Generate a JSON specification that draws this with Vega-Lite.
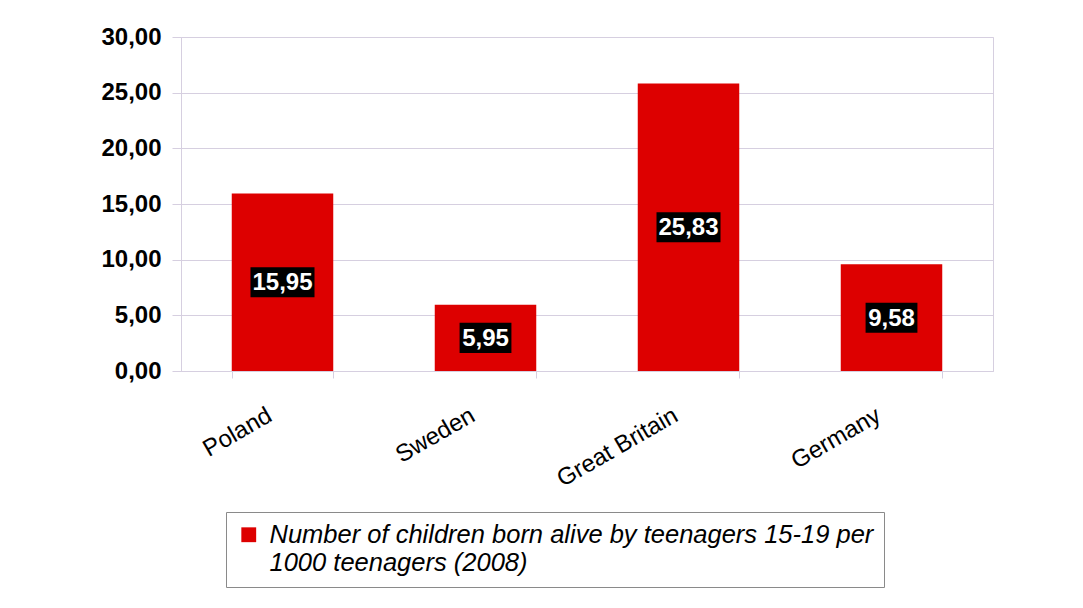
{
  "$schema": "https://vega.github.io/schema/vega-lite/v6.json",
  "width": 812,
  "height": 334,
  "autosize": {"type": "none"},
  "padding": {"left": 181, "top": 37, "right": 90, "bottom": 237},
  "background": "white",
  "config": {
    "font": "Liberation Sans",
    "view": {"stroke": "#d6cfe0", "strokeWidth": 1},
    "style": {"guide-label": {"lineHeight": 28}}
  },
  "data": {
    "values": [
      {"country": "Poland", "value": 15.95, "series": "Number of children born alive by teenagers 15-19 per 1000 teenagers (2008)"},
      {"country": "Sweden", "value": 5.95, "series": "Number of children born alive by teenagers 15-19 per 1000 teenagers (2008)"},
      {"country": "Great Britain", "value": 25.83, "series": "Number of children born alive by teenagers 15-19 per 1000 teenagers (2008)"},
      {"country": "Germany", "value": 9.58, "series": "Number of children born alive by teenagers 15-19 per 1000 teenagers (2008)"}
    ]
  },
  "transform": [
    {"calculate": "datum.value / 2", "as": "mid"},
    {"calculate": "replace(format(datum.value, '.2f'), '.', ',')", "as": "label"}
  ],
  "encoding": {
    "x": {
      "field": "country",
      "type": "nominal",
      "sort": null,
      "title": null,
      "scale": {"paddingInner": 0.5, "paddingOuter": 0.25},
      "axis": {
        "labelAngle": -30,
        "labelFontSize": 24,
        "labelColor": "black",
        "labelAlign": "right",
        "labelBaseline": "top",
        "tickBand": "extent",
        "tickColor": "#d6cfe0",
        "tickSize": 7,
        "domainColor": "#d6cfe0",
        "labelPadding": 25,
        "labelOffset": -19,
        "grid": false
      }
    }
  },
  "layer": [
    {
      "mark": {"type": "bar"},
      "encoding": {
        "y": {
          "field": "value",
          "type": "quantitative",
          "title": null,
          "scale": {"domain": [0, 30], "nice": false},
          "axis": {
            "values": [0, 5, 10, 15, 20, 25, 30],
            "labelExpr": "replace(format(datum.value, '.2f'), '.', ',')",
            "labelFontSize": 24,
            "labelFontWeight": "bold",
            "labelColor": "black",
            "domainColor": "#d6cfe0",
            "tickColor": "#d6cfe0",
            "gridColor": "#d6cfe0",
            "tickSize": 9,
            "labelPadding": 11
          }
        },
        "color": {
          "field": "series",
          "type": "nominal",
          "scale": {"range": ["#dd0000"]},
          "legend": {
            "orient": "none",
            "legendX": 45,
            "legendY": 475,
            "title": null,
            "strokeColor": "#8a8a8a",
            "fillColor": "white",
            "padding": 10,
            "symbolType": "square",
            "symbolSize": 220,
            "symbolStrokeWidth": 0,
            "labelFontSize": 25.5,
            "labelFontStyle": "italic",
            "labelColor": "black",
            "labelLimit": 800,
            "labelOffset": 8,
            "labelExpr": "['Number of children born alive by teenagers 15-19 per', '1000 teenagers (2008)']"
          }
        }
      }
    },
    {
      "mark": {"type": "point", "filled": true, "color": "black", "opacity": 1, "size": 4096},
      "encoding": {
        "y": {"field": "mid", "type": "quantitative", "title": null},
        "shape": {
          "condition": {"test": "datum.value < 10", "value": "M-0.81,-0.47H0.81V0.47H-0.81Z"},
          "value": "M-1,-0.47H1V0.47H-1Z"
        }
      }
    },
    {
      "mark": {"type": "text", "color": "white", "fontWeight": "bold", "fontSize": 24, "baseline": "middle", "dy": 1},
      "encoding": {
        "y": {"field": "mid", "type": "quantitative", "title": null},
        "text": {"field": "label"}
      }
    }
  ]
}
